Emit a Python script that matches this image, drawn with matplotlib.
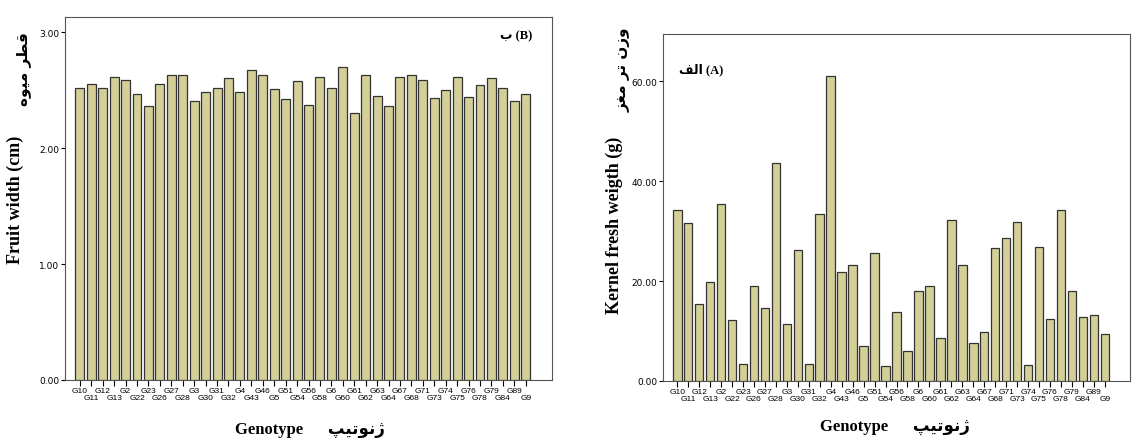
import matplotlib.pyplot as plt
import numpy as np

genotypes = ['G10', 'G11', 'G12', 'G13', 'G2', 'G22', 'G23', 'G26', 'G27', 'G28',
             'G3', 'G30', 'G31', 'G32', 'G4', 'G43', 'G46', 'G5', 'G51', 'G54',
             'G56', 'G58', 'G6', 'G60', 'G61', 'G62', 'G63', 'G64', 'G67', 'G68',
             'G71', 'G73', 'G74', 'G75', 'G76', 'G78', 'G79', 'G84', 'G89', 'G9']
fruit_width = [2.52, 2.55, 2.52, 2.61, 2.59, 2.47, 2.36, 2.55, 2.63, 2.63,
               2.41, 2.48, 2.52, 2.60, 2.48, 2.67, 2.63, 2.51, 2.42, 2.58,
               2.37, 2.61, 2.52, 2.70, 2.30, 2.63, 2.45, 2.36, 2.61, 2.63,
               2.59, 2.43, 2.50, 2.61, 2.44, 2.54, 2.60, 2.52, 2.41, 2.47]
kernel_weight = [34.2, 31.6, 15.5, 19.8, 35.4, 12.2, 3.5, 19.1, 14.7, 43.6,
                 11.5, 26.3, 3.4, 33.4, 61.1, 21.8, 23.3, 7.1, 25.6, 3.0,
                 13.9, 6.1, 18.0, 19.1, 8.7, 32.2, 23.2, 7.7, 9.9, 26.7,
                 28.6, 31.8, 3.2, 26.8, 12.4, 34.3, 18.0, 12.9, 13.2, 9.4]

bar_color = '#d3cf97'
serif = ['Liberation Serif', 'DejaVu Sans']

# matplotlib has no arabic shaping: pick presentation forms by hand
# (isolated, final, initial, medial); two-form letters only join to the right
FORMS = {
    'ا': (0xFE8D, 0xFE8E), 'ب': (0xFE8F, 0xFE90, 0xFE91, 0xFE92),
    'ت': (0xFE95, 0xFE96, 0xFE97, 0xFE98), 'ر': (0xFEAD, 0xFEAE),
    'ز': (0xFEAF, 0xFEB0), 'ژ': (0xFB8A, 0xFB8B),
    'ط': (0xFEC1, 0xFEC2, 0xFEC3, 0xFEC4), 'غ': (0xFECD, 0xFECE, 0xFECF, 0xFED0),
    'ف': (0xFED1, 0xFED2, 0xFED3, 0xFED4), 'ق': (0xFED5, 0xFED6, 0xFED7, 0xFED8),
    'ل': (0xFEDD, 0xFEDE, 0xFEDF, 0xFEE0), 'م': (0xFEE1, 0xFEE2, 0xFEE3, 0xFEE4),
    'ن': (0xFEE5, 0xFEE6, 0xFEE7, 0xFEE8), 'ه': (0xFEE9, 0xFEEA, 0xFEEB, 0xFEEC),
    'و': (0xFEED, 0xFEEE), 'ي': (0xFEF1, 0xFEF2, 0xFEF3, 0xFEF4),
    'ی': (0xFBFC, 0xFBFD, 0xFBFE, 0xFBFF), 'پ': (0xFB56, 0xFB57, 0xFB58, 0xFB59),
}


def fa(s):
    out = []
    for i, c in enumerate(s):
        if c not in FORMS:
            out.append(c)
            continue
        prev = s[i - 1] if i > 0 else ''
        nxt = s[i + 1] if i + 1 < len(s) else ''
        join_prev = prev in FORMS and len(FORMS[prev]) == 4
        join_next = len(FORMS[c]) == 4 and nxt in FORMS
        f = FORMS[c]
        if join_prev and join_next:
            out.append(chr(f[3]))
        elif join_prev:
            out.append(chr(f[1]))
        elif join_next:
            out.append(chr(f[2]))
        else:
            out.append(chr(f[0]))
    return ''.join(out)[::-1]


fig = plt.figure(figsize=(11.34, 4.39), dpi=100)
ax1 = fig.add_axes([65 / 1134, 1 - 381 / 439, 487 / 1134, 363 / 439])
ax2 = fig.add_axes([663 / 1134, 1 - 382 / 439, 467 / 1134, 347 / 439])

x = np.arange(len(genotypes))
labels = [g if i % 2 == 0 else '\n' + g for i, g in enumerate(genotypes)]


def draw(ax, vals, ylim, yticks):
    ax.bar(x, vals, width=0.78, color=bar_color, edgecolor='#333333', linewidth=0.9)
    ax.set_xlim(-1.3, len(x) + 1.3)
    ax.set_ylim(*ylim)
    ax.set_yticks(yticks)
    ax.set_yticklabels(['%.2f' % t for t in yticks], fontsize=6.5)
    ax.set_xticks(x)
    ax.set_xticklabels(labels, fontsize=6, linespacing=1.1, family='Liberation Sans')
    ax.tick_params(axis='x', length=4, pad=1)
    ax.tick_params(axis='y', length=3, pad=1)
    for s in ax.spines.values():
        s.set_color('#555555')


draw(ax1, fruit_width, (0, 3.13), [0, 1, 2, 3])
draw(ax2, kernel_weight, (0, 69.5), [0, 20, 40, 60])

ax1.set_ylabel('Fruit width (cm)', fontsize=13, fontweight='bold', family=serif)
ax1.yaxis.set_label_coords(-0.085, 0.5)
ax1.text(-0.085, 0.86, fa('قطر میوه'), transform=ax1.transAxes, rotation=90,
         ha='center', va='center', fontsize=11, fontweight='bold')
ax1.text(0.96, 0.95, fa('ب') + ' (B)', transform=ax1.transAxes, ha='right', va='center',
         fontsize=9, fontweight='bold', family=serif)
fig.text(310 / 1134, 1 - 430 / 439, 'Genotype      ' + fa('ژنوتیپ'), ha='center', va='center',
         fontsize=12, fontweight='bold', family=serif)

ax2.set_ylabel('Kernel fresh weigth (g)', fontsize=13, fontweight='bold', family=serif)
ax2.yaxis.set_label_coords(-0.085, 0.45)
ax2.text(-0.085, 0.9, fa('وزن تر مغز'), transform=ax2.transAxes, rotation=90,
         ha='center', va='center', fontsize=11, fontweight='bold')
ax2.text(0.035, 0.9, fa('الف') + ' (A)', transform=ax2.transAxes, ha='left', va='center',
         fontsize=9, fontweight='bold', family=serif)
fig.text(895 / 1134, 1 - 427 / 439, 'Genotype      ' + fa('ژنوتيپ'), ha='center', va='center',
         fontsize=12, fontweight='bold', family=serif)

fig.savefig('out.png', dpi=100)
